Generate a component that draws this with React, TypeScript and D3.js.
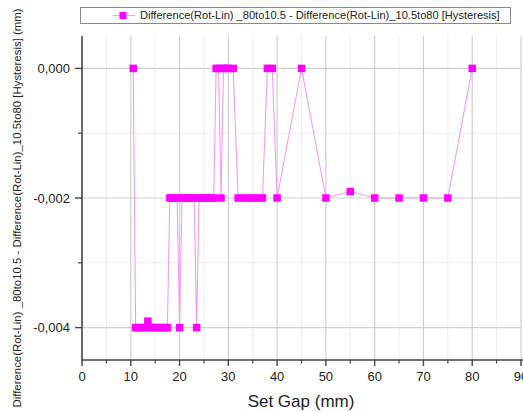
import React from "react";
import * as d3 from "d3";

const gapValues: number[] = [
  10.5, 11, 11.5, 12, 12.5, 13, 13.5, 14, 14.5, 15, 15.5, 16, 16.5, 17, 17.5,
  18, 18.5, 19, 19.5, 20, 20.5, 21, 21.5, 22, 22.5, 23, 23.5, 24, 24.5, 25,
  25.5, 26, 26.5, 27, 27.5, 28, 28.5, 29, 29.5, 30, 31, 32, 33, 34, 35, 36, 37,
  38, 39, 40, 45, 50, 55, 60, 65, 70, 75, 80,
];
const hysteresisValues: number[] = [
  0, -0.004, -0.004, -0.004, -0.004, -0.004, -0.0039, -0.004, -0.004, -0.004,
  -0.004, -0.004, -0.004, -0.004, -0.004,
  -0.002, -0.002, -0.002, -0.002, -0.004, -0.002, -0.002, -0.002, -0.002,
  -0.002, -0.002, -0.004, -0.002, -0.002, -0.002,
  -0.002, -0.002, -0.002, -0.002, 0, 0, -0.002, 0, 0, 0, 0, -0.002, -0.002,
  -0.002, -0.002, -0.002, -0.002,
  0, 0, -0.002, 0, -0.002, -0.0019, -0.002, -0.002, -0.002, -0.002, 0,
];
const xMajorTicks: number[] = [0, 10, 20, 30, 40, 50, 60, 70, 80, 90];
const xMinorTicks: number[] = [5, 15, 25, 35, 45, 55, 65, 75, 85];
const yMajorTicks: number[] = [0, -0.002, -0.004];
const yMinorTicks: number[] = [-0.001, -0.003];
const yTickLabels: string[] = ["0,000", "-0,002", "-0,004"];
const legendLabel =
  "Difference(Rot-Lin) _80to10.5 - Difference(Rot-Lin)_10.5to80 [Hysteresis]";
const yAxisTitle =
  "Difference(Rot-Lin) _80to10.5 - Difference(Rot-Lin)_10.5to80 [Hysteresis] (mm)";
const xAxisTitle = "Set Gap (mm)";

export default function App() {
  const W = 523;
  const H = 412;
  const left = 82;
  const right = 521;
  const top = 36;
  const bottom = 360;
  const x = d3.scaleLinear().domain([0, 90]).range([left, right]);
  const y = d3.scaleLinear().domain([-0.0045, 0.0005]).range([bottom, top]);
  const pts = gapValues.map((g, i) => [g, hysteresisValues[i]] as [number, number]);
  const line = d3
    .line<[number, number]>()
    .x((d) => x(d[0]))
    .y((d) => y(d[1]));
  const font = "'Liberation Sans', Arial, sans-serif";
  const ms = 7.5;

  return (
    <svg
      width={W}
      height={H}
      style={{ position: "absolute", left: 0, top: 0, background: "#fff" }}
      fontFamily={font}
    >
      <rect x={0} y={0} width={W} height={H} fill="#fff" />
      {/* minor grid */}
      {xMinorTicks.map((t) => (
        <line key={"xm" + t} x1={x(t)} x2={x(t)} y1={top} y2={bottom} stroke="#ededed" strokeWidth={1} />
      ))}
      {yMinorTicks.map((t) => (
        <line key={"ym" + t} x1={left} x2={right} y1={y(t)} y2={y(t)} stroke="#ededed" strokeWidth={1} />
      ))}
      {/* major grid */}
      {xMajorTicks.slice(1).map((t) => (
        <line key={"xg" + t} x1={x(t)} x2={x(t)} y1={top} y2={bottom} stroke="#cfcfcf" strokeWidth={1.2} />
      ))}
      {yMajorTicks.map((t) => (
        <line key={"yg" + t} x1={left} x2={right} y1={y(t)} y2={y(t)} stroke="#cfcfcf" strokeWidth={1.2} />
      ))}
      {/* data line */}
      <path d={line(pts) || ""} fill="none" stroke="#f39cf3" strokeWidth={1.1} />
      {pts.map((p, i) => (
        <rect
          key={"m" + i}
          x={x(p[0]) - ms / 2}
          y={y(p[1]) - ms / 2}
          width={ms}
          height={ms}
          fill="#ff00ff"
        />
      ))}
      {/* axes */}
      <line x1={left} x2={left} y1={top} y2={bottom + 0.5} stroke="#444" strokeWidth={1.6} />
      <line x1={left} x2={right + 2} y1={bottom} y2={bottom} stroke="#444" strokeWidth={1.6} />
      {yMajorTicks.map((t, i) => (
        <g key={"yt" + t}>
          <line x1={left - 7} x2={left} y1={y(t)} y2={y(t)} stroke="#444" strokeWidth={1.4} />
          <text x={70} y={y(t)} dy="0.35em" textAnchor="end" fontSize={13} fill="#222">
            {yTickLabels[i]}
          </text>
        </g>
      ))}
      {yMinorTicks.map((t) => (
        <line key={"ymt" + t} x1={left - 4} x2={left} y1={y(t)} y2={y(t)} stroke="#444" strokeWidth={1.2} />
      ))}
      {xMajorTicks.map((t) => (
        <g key={"xt" + t}>
          <line x1={x(t)} x2={x(t)} y1={bottom} y2={bottom + 6} stroke="#444" strokeWidth={1.4} />
          <text x={x(t)} y={381} textAnchor="middle" fontSize={13} fill="#222">
            {String(t)}
          </text>
        </g>
      ))}
      {xMinorTicks.map((t) => (
        <line key={"xmt" + t} x1={x(t)} x2={x(t)} y1={bottom} y2={bottom + 3.5} stroke="#444" strokeWidth={1.2} />
      ))}
      {/* axis titles */}
      <text x={301} y={407} textAnchor="middle" fontSize={17} fill="#222">
        {xAxisTitle}
      </text>
      <text
        transform="translate(21,208) rotate(-90)"
        textAnchor="middle"
        fontSize={11.4}
        fill="#222"
      >
        {yAxisTitle}
      </text>
      {/* legend */}
      <rect x={80.5} y={7.5} width={430} height={16} fill="#fff" stroke="#8a8a8a" strokeWidth={1} />
      <line x1={113} x2={135} y1={15.5} y2={15.5} stroke="#f39cf3" strokeWidth={1.1} />
      <rect x={123 - 3.5} y={15.5 - 3.5} width={7} height={7} fill="#ff00ff" />
      <text x={140} y={15.5} dy="0.35em" fontSize={11.1} fill="#222">
        {legendLabel}
      </text>
    </svg>
  );
}
